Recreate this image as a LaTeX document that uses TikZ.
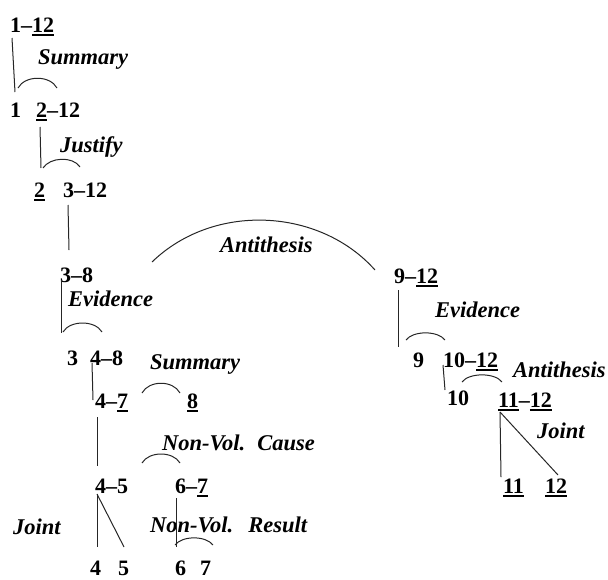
\documentclass[tikz,border=0pt]{standalone}
\usepackage{fontspec}
\setmainfont{Liberation Serif}
\usetikzlibrary{calc}
\newcommand\ulnum[1]{\setbox0\hbox{#1}\rlap{\rule[-3.5pt]{\wd0}{1.3pt}}\box0}
\tikzset{
  num/.style={inner sep=0pt, anchor=base west, font=\fontsize{22}{26}\selectfont\bfseries},
  rel/.style={inner sep=0pt, anchor=base west, font=\fontsize{22.5}{26}\selectfont\bfseries\itshape},
  link/.style={line width=1pt, draw=black!85}
}
\begin{document}
\begin{tikzpicture}[x=1pt,y=-1pt]
\useasboundingbox (0,0) rectangle (608,579);
% span nodes
\node[num] (n112) at (10,32) {1\textendash\ulnum{12}};
\node[num] (n1) at (10,117) {1};
\node[num] (n212) at (36,117) {\ulnum{2}\textendash 12};
\node[num] (n2) at (34,197) {\ulnum{2}};
\node[num] (n312) at (63,197) {3\textendash 12};
\node[num] (n38) at (60,282) {3\textendash 8};
\node[num] (n3) at (67,365) {3};
\node[num] (n48) at (90,365) {4\textendash 8};
\node[num] (n47) at (95,408) {4\textendash\ulnum{7}};
\node[num] (n8) at (187,408) {\ulnum{8}};
\node[num] (n45) at (95,493) {4\textendash 5};
\node[num] (n67) at (175,493) {6\textendash\ulnum{7}};
\node[num] (n4) at (90,575) {4};
\node[num] (n5) at (118,575) {5};
\node[num] (n6) at (175,575) {6};
\node[num] (n7) at (200,575) {7};
\node[num] (n912) at (394,283) {9\textendash\ulnum{12}};
\node[num] (n9) at (413,367) {9};
\node[num] (n1012) at (443,367) {10\textendash\ulnum{12}};
\node[num] (n10) at (447,405) {10};
\node[num] (n1112) at (498,407) {\ulnum{11}\textendash\ulnum{12}};
\node[num] (n11) at (503,493) {\ulnum{11}};
\node[num] (n12) at (545,493) {\ulnum{12}};
% relation labels
\node[rel] (r1) at (38,64) {Summary};
\node[rel] (r2) at (60,152) {Justify};
\node[rel] (r3) at (68,306) {Evidence};
\node[rel] (r4) at (150,369) {Summary};
\node[rel] (r5) at (220,252) {Antithesis};
\node[rel] (r6) at (162,450) {Non-Vol.\hspace{12pt}Cause};
\node[rel] (r7) at (150,532) {Non-Vol.\hspace{15pt}Result};
\node[rel] (r8) at (13,534) {Joint};
\node[rel] (r9) at (435,317) {Evidence};
\node[rel] (r10) at (513,377) {Antithesis};
\node[rel] (r11) at (537,438) {Joint};
% connectors
\draw[link] ($(n112.base west)+(2,6)$) -- ($(n1.base west)+(5,-25)$);
\draw[link] ($(n1.base west)+(8,-29)$) .. controls +(7,-13) and +(-7,-13) .. ($(n212.base west)+(21,-29)$);
\draw[link] ($(n212.base west)+(4,10)$) -- ($(n2.base west)+(7,-29)$);
\draw[link] ($(n2.base west)+(9,-29)$) .. controls +(7,-11) and +(-7,-11) .. ($(n312.base west)+(17,-30)$);
\draw[link] ($(n312.base west)+(5,8)$) -- ($(n38.base west)+(9,-32)$);
\draw[link] ($(n38.base west)+(92,-20)$) .. controls +(62,-60) and +(-55,-62) .. ($(n912.base west)+(-19,-13)$);
\draw[link] ($(n38.base west)+(1,-2)$) -- ($(n3.base west)+(-6,-32)$);
\draw[link] ($(n3.base west)+(-4,-33)$) .. controls +(7,-12) and +(-7,-12) .. ($(n48.base west)+(12,-33)$);
\draw[link] ($(n48.base west)+(2,-2)$) -- ($(n47.base west)+(-2,-8)$);
\draw[link] ($(n47.base west)+(47,-15)$) .. controls +(7,-13) and +(-7,-13) .. ($(n8.base west)+(-7,-15)$);
\draw[link] ($(n47.base west)+(2,9)$) -- ($(n45.base west)+(2,-27)$);
\draw[link] ($(n45.base west)+(47,-30)$) .. controls +(7,-12) and +(-7,-12) .. ($(n67.base west)+(5,-30)$);
\draw[link] ($(n45.base west)+(2,1)$) -- ($(n4.base west)+(7,-28)$);
\draw[link] ($(n45.base west)+(2,1)$) -- ($(n5.base west)+(6,-28)$);
\draw[link] ($(n67.base west)+(1,5)$) -- ($(n6.base west)+(1,-28)$);
\draw[link] ($(n6.base west)+(0,-30)$) .. controls +(7,-9.5) and +(-7,-9.5) .. ($(n7.base west)+(13,-30)$);
\draw[link] ($(n912.base west)+(4,7)$) -- ($(n9.base west)+(-15,-20)$);
\draw[link] ($(n9.base west)+(-7,-27)$) .. controls +(7,-9.5) and +(-7,-9.5) .. ($(n1012.base west)+(2,-27)$);
\draw[link] ($(n1012.base west)+(0,-2)$) -- ($(n10.base west)+(-2,-15)$);
\draw[link] ($(n10.base west)+(15,-23)$) .. controls +(7,-9.5) and +(-7,-9.5) .. ($(n1112.base west)+(4,-25)$);
\draw[link] ($(n1112.base west)+(2,5)$) -- ($(n11.base west)+(-2,-16)$);
\draw[link] ($(n1112.base west)+(2,5)$) -- ($(n12.base west)+(13,-18)$);
\end{tikzpicture}
\end{document}
